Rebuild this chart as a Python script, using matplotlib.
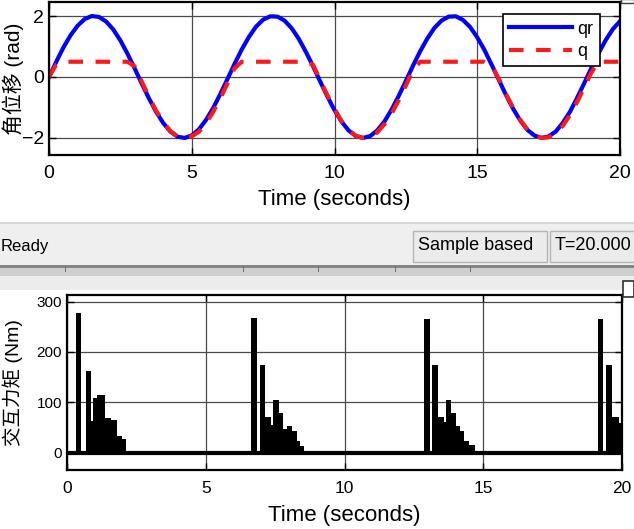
import matplotlib.pyplot as plt
from matplotlib.patches import Rectangle

plt.rcParams['font.family'] = ['Liberation Sans', 'Noto Sans CJK SC']

# 角位移: qr (reference) and q (actual), sampled every 0.25 s
t = [i * 0.25 for i in range(81)]
qr = [0.00, 0.49, 0.96, 1.36, 1.68, 1.90, 2.00, 1.97, 1.82, 1.56,
      1.20, 0.76, 0.28, -0.22, -0.70, -1.14, -1.51, -1.79, -1.96, -2.00,
      -1.92, -1.72, -1.41, -1.02, -0.56, -0.07, 0.43, 0.90, 1.31, 1.65,
      1.88, 1.99, 1.98, 1.85, 1.60, 1.25, 0.82, 0.35, -0.15, -0.64,
      -1.09, -1.47, -1.76, -1.94, -2.00, -1.94, -1.75, -1.46, -1.07, -0.62,
      -0.13, 0.37, 0.84, 1.26, 1.61, 1.85, 1.98, 1.99, 1.87, 1.64,
      1.30, 0.89, 0.41, -0.08, -0.58, -1.03, -1.42, -1.73, -1.92, -2.00,
      -1.95, -1.79, -1.50, -1.14, -0.68, -0.20, 0.30, 0.78, 1.21, 1.57,
      1.83]
q = [0.00, 0.40, 0.50, 0.50, 0.50, 0.50, 0.50, 0.50, 0.50, 0.50,
     0.50, 0.50, 0.35, -0.15, -0.65, -1.10, -1.48, -1.77, -1.95, -2.00,
     -1.95, -1.80, -1.52, -1.15, -0.70, -0.22, 0.28, 0.50, 0.50, 0.50,
     0.50, 0.50, 0.50, 0.50, 0.50, 0.50, 0.50, 0.40, -0.10, -0.60,
     -1.05, -1.45, -1.74, -1.93, -2.00, -1.97, -1.82, -1.55, -1.20, -0.77,
     -0.28, 0.22, 0.50, 0.50, 0.50, 0.50, 0.50, 0.50, 0.50, 0.50,
     0.50, 0.50, 0.38, -0.05, -0.55, -1.00, -1.40, -1.71, -1.91, -2.00,
     -1.98, -1.85, -1.60, -1.25, -0.82, -0.34, 0.15, 0.50, 0.50, 0.50,
     0.50]

# 交互力矩: pulse times (s) and heights (Nm)
pulse_t = [0.38, 0.47, 0.73, 0.81, 0.89, 0.98, 1.06, 1.14, 1.22, 1.30,
           1.38, 1.46, 1.54, 1.62, 1.70, 1.76, 1.86, 1.92, 2.00, 2.07,
           6.69, 6.79, 7.00, 7.10, 7.20, 7.29, 7.38, 7.48, 7.57, 7.65,
           7.73, 7.83, 7.91, 7.99, 8.07, 8.15, 8.22, 8.29, 8.36, 8.44, 8.50,
           12.92, 13.02, 13.22, 13.32, 13.43, 13.52, 13.61, 13.71, 13.79, 13.88,
           13.97, 14.05, 14.12, 14.20, 14.27, 14.35, 14.42, 14.50, 14.58, 14.66,
           19.17, 19.27, 19.49, 19.57, 19.68, 19.76, 19.84, 19.92, 19.98]
pulse_h = [278, 278, 163, 163, 63, 108, 108, 114, 114, 114,
           69, 69, 69, 66, 66, 66, 33, 33, 28, 28,
           268, 268, 174, 174, 72, 72, 56, 105, 105, 80,
           80, 47, 47, 53, 53, 43, 43, 24, 24, 14, 14,
           266, 266, 174, 174, 72, 72, 62, 105, 105, 80,
           80, 53, 53, 43, 43, 24, 24, 16, 16, 16,
           266, 266, 174, 174, 72, 72, 72, 60, 60]

W, H = 634, 529
fig = plt.figure(figsize=(W / 100, H / 100), dpi=100)
fig.patch.set_facecolor('white')


def box(x0, y0, x1, y1):
    return [x0 / W, 1 - y1 / H, (x1 - x0) / W, (y1 - y0) / H]


def rect(x0, y0, x1, y1, fc, ec='none', lw=0):
    b = box(x0, y0, x1, y1)
    fig.patches.append(Rectangle((b[0], b[1]), b[2], b[3], transform=fig.transFigure,
                                 facecolor=fc, edgecolor=ec, linewidth=lw, zorder=0))


# status bar between the two scope windows
rect(0, 222, W, 265, '#efefef')
rect(0, 222, W, 224, '#d6d6d6')
rect(0, 265, W, 268, '#858585')
rect(0, 268, W, 276, '#cfcfcf')
rect(0, 276, W, 290, '#ececec')
rect(413, 231, 547, 262, '#ebebeb', '#b4b4b4', 1)
rect(550, 231, 640, 262, '#ebebeb', '#b4b4b4', 1)
for xs in [65, 243, 318, 395, 470]:
    rect(xs, 266, xs + 1, 272, '#707070')
fig.text(1 / W, 1 - 246 / H, 'Ready', fontsize=12, va='center', ha='left')
fig.text(418 / W, 1 - 246 / H, 'Sample based', fontsize=13, va='center', ha='left')
fig.text(555 / W, 1 - 246 / H, 'T=20.000', fontsize=13, va='center', ha='left')
rect(621, -1, 634, 3, 'white', '#404040', 1)
rect(623, 281, 634, 297, 'white', '#303030', 1.2)

ax1 = fig.add_axes(box(49, 2, 620, 155))
ax2 = fig.add_axes(box(67, 295, 622, 470))

ax1.plot(t, qr, color='#0000ff', lw=3, label='qr')
ax1.plot(t, q, color='#ff1a1a', lw=3, ls=(0, (3.5, 3)), label='q')
ax1.set_xlim(0, 20)
ax1.set_ylim(-2.56, 2.46)
ax1.set_xticks([0, 5, 10, 15, 20])
ax1.set_yticks([-2, 0, 2])
ax1.tick_params(labelsize=14)
ax1.tick_params(axis='x', pad=7)
ax1.set_xlabel('Time (seconds)', fontsize=16)
ax1.xaxis.set_label_coords(0.5, -0.225)
ax1.set_ylabel('角位移 (rad)', fontsize=15)
ax1.yaxis.set_label_coords(-0.044, 0.5)
leg = ax1.legend(loc='upper right', bbox_to_anchor=(0.965, 0.92), borderaxespad=0,
                 fontsize=13, handlelength=3.5, handletextpad=0.3, labelspacing=0.3,
                 borderpad=0.35, fancybox=False, framealpha=1, edgecolor='black')
leg.get_frame().set_linewidth(1.2)

ax2.bar(pulse_t, pulse_h, width=0.105, color='black', linewidth=0)
ax2.axhline(0, color='black', lw=3)
ax2.set_xlim(0, 20)
ax2.set_ylim(-34, 313)
ax2.set_xticks([0, 5, 10, 15, 20])
ax2.set_yticks([0, 100, 200, 300])
ax2.tick_params(axis='x', labelsize=12.5, pad=8)
ax2.tick_params(axis='y', labelsize=11)
ax2.set_xlabel('Time (seconds)', fontsize=16)
ax2.xaxis.set_label_coords(0.5, -0.2)
ax2.set_ylabel('交互力矩 (Nm)', fontsize=14)
ax2.yaxis.set_label_coords(-0.08, 0.5)

for ax in (ax1, ax2):
    ax.set_facecolor('white')
    ax.grid(True, color='#4a4a4a', lw=0.9)
    ax.set_axisbelow(True)
    ax.tick_params(direction='in', top=True, right=True, length=5, width=1)
    for s in ax.spines.values():
        s.set_linewidth(1.6)

fig.savefig('out.png', dpi=100)
